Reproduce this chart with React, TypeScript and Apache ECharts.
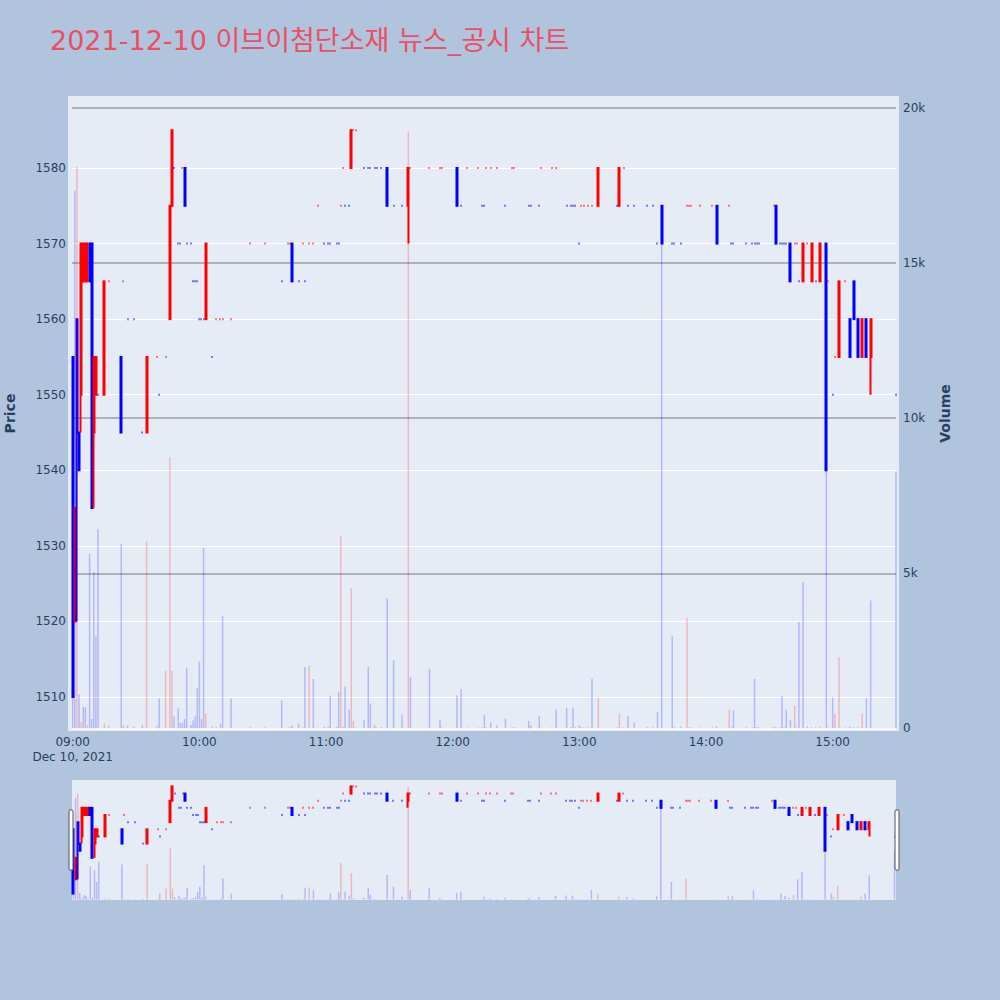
import React, { useEffect, useRef } from 'react';
import * as echarts from 'echarts';

// ---- data (1-minute bars, 2021-12-10) ----
const times = [
  '09:00','09:01','09:02','09:03','09:04','09:05','09:06','09:07','09:08','09:09',
  '09:10','09:11','09:12','09:15','09:17','09:23','09:24','09:26','09:29','09:33',
  '09:35','09:40','09:41','09:44','09:46','09:47','09:48','09:50','09:51','09:52',
  '09:53','09:54','09:56','09:57','09:58','09:59','10:00','10:01','10:02','10:03',
  '10:06','10:08','10:10','10:11','10:15','10:24','10:31','10:39','10:42','10:43',
  '10:44','10:47','10:49','10:50','10:52','10:54','10:56','10:59','11:01','11:02',
  '11:05','11:06','11:07','11:08','11:09','11:11','11:12','11:13','11:14','11:18',
  '11:20','11:21','11:23','11:24','11:26','11:29','11:32','11:36','11:39','11:40',
  '11:49','11:54','11:55','12:02','12:04','12:07','12:12','12:14','12:15','12:16',
  '12:18','12:21','12:25','12:28','12:29','12:36','12:37','12:41','12:42','12:47',
  '12:49','12:54','12:56','12:57','12:58','13:00','13:01','13:02','13:04','13:06',
  '13:09','13:18','13:19','13:21','13:23','13:26','13:32','13:35','13:37','13:39',
  '13:44','13:45','13:48','13:51','13:52','13:53','13:57','14:03','14:05','14:11',
  '14:12','14:13','14:19','14:22','14:23','14:24','14:25','14:32','14:33','14:35',
  '14:36','14:37','14:38','14:40','14:42','14:43','14:44','14:46','14:48','14:50',
  '14:52','14:54','14:57','14:58','15:00','15:01','15:03','15:06','15:08','15:10',
  '15:12','15:14','15:16','15:18','15:30'
];
const opens = [
  1555,1520,1560,1545,1550,1565,1565,1565,1570,1570,
  1545,1550,1550,1550,1565,1555,1565,1560,1560,1545,
  1545,1555,1550,1555,1560,1575,1580,1570,1570,1580,
  1580,1570,1570,1565,1565,1565,1560,1560,1560,1560,
  1555,1560,1560,1560,1560,1570,1570,1565,1570,1570,
  1570,1565,1570,1565,1570,1570,1575,1570,1570,1570,
  1570,1570,1575,1580,1575,1575,1580,1585,1585,1580,
  1580,1580,1580,1580,1580,1580,1575,1575,1575,1580,
  1580,1580,1580,1580,1575,1580,1580,1575,1575,1580,
  1580,1580,1575,1580,1580,1575,1575,1575,1580,1580,
  1580,1575,1575,1575,1575,1570,1575,1575,1575,1575,
  1575,1575,1575,1580,1575,1575,1575,1575,1570,1575,
  1570,1570,1570,1575,1575,1575,1575,1575,1575,1575,
  1570,1570,1570,1570,1570,1570,1570,1575,1575,1570,
  1570,1570,1570,1570,1570,1570,1565,1565,1570,1565,
  1565,1565,1570,1565,1550,1555,1555,1565,1560,1565,
  1560,1555,1560,1555,1550
];
const highs = [
  1555,1535,1560,1545,1570,1570,1570,1570,1570,1570,
  1555,1555,1550,1565,1565,1555,1565,1560,1560,1545,
  1555,1555,1550,1555,1575,1585,1580,1570,1570,1580,
  1580,1570,1570,1565,1565,1565,1560,1560,1560,1570,
  1555,1560,1560,1560,1560,1570,1570,1565,1570,1570,
  1570,1565,1570,1565,1570,1570,1575,1570,1570,1570,
  1570,1570,1575,1580,1575,1575,1585,1585,1585,1580,
  1580,1580,1580,1580,1580,1580,1575,1575,1580,1580,
  1580,1580,1580,1580,1575,1580,1580,1575,1575,1580,
  1580,1580,1575,1580,1580,1575,1575,1575,1580,1580,
  1580,1575,1575,1575,1575,1570,1575,1575,1575,1575,
  1580,1575,1580,1580,1575,1575,1575,1575,1570,1575,
  1570,1570,1570,1575,1575,1575,1575,1575,1575,1575,
  1570,1570,1570,1570,1570,1570,1570,1575,1575,1570,
  1570,1570,1570,1570,1570,1570,1565,1570,1570,1570,
  1565,1570,1570,1565,1550,1555,1565,1565,1560,1565,
  1560,1560,1560,1560,1550
];
const lows = [
  1510,1520,1520,1540,1545,1565,1565,1565,1565,1535,
  1535,1550,1550,1550,1565,1545,1565,1560,1560,1545,
  1545,1555,1550,1555,1560,1575,1580,1570,1570,1580,
  1575,1570,1570,1565,1565,1565,1560,1560,1560,1560,
  1555,1560,1560,1560,1560,1570,1570,1565,1570,1570,
  1565,1565,1570,1565,1570,1570,1575,1570,1570,1570,
  1570,1570,1575,1580,1575,1575,1580,1585,1585,1580,
  1580,1580,1580,1580,1580,1575,1575,1575,1570,1580,
  1580,1580,1580,1575,1575,1580,1580,1575,1575,1580,
  1580,1580,1575,1580,1580,1575,1575,1575,1580,1580,
  1580,1575,1575,1575,1575,1570,1575,1575,1575,1575,
  1575,1575,1575,1580,1575,1575,1575,1575,1570,1570,
  1570,1570,1570,1575,1575,1575,1575,1575,1570,1575,
  1570,1570,1570,1570,1570,1570,1570,1575,1570,1570,
  1570,1570,1570,1565,1570,1570,1565,1565,1570,1565,
  1565,1565,1540,1565,1550,1555,1555,1565,1555,1560,
  1555,1555,1555,1550,1550
];
const closes = [
  1510,1535,1545,1540,1570,1570,1570,1570,1565,1535,
  1555,1555,1550,1565,1565,1545,1565,1560,1560,1545,
  1555,1555,1550,1555,1575,1585,1580,1570,1570,1580,
  1575,1570,1570,1565,1565,1565,1560,1560,1560,1570,
  1555,1560,1560,1560,1560,1570,1570,1565,1570,1570,
  1565,1565,1570,1565,1570,1570,1575,1570,1570,1570,
  1570,1570,1575,1580,1575,1575,1585,1585,1585,1580,
  1580,1580,1580,1580,1580,1575,1575,1575,1580,1580,
  1580,1580,1580,1575,1575,1580,1580,1575,1575,1580,
  1580,1580,1575,1580,1580,1575,1575,1575,1580,1580,
  1580,1575,1575,1575,1575,1570,1575,1575,1575,1575,
  1580,1575,1580,1580,1575,1575,1575,1575,1570,1570,
  1570,1570,1570,1575,1575,1575,1575,1575,1570,1575,
  1570,1570,1570,1570,1570,1570,1570,1575,1570,1570,
  1570,1570,1570,1565,1570,1570,1565,1570,1570,1570,
  1565,1570,1540,1565,1550,1555,1565,1565,1555,1560,
  1555,1560,1555,1560,1550
];
const volumes = [
  10600,17340,18100,1100,200,700,670,100,5620,300,
  5050,2970,6420,150,100,5950,100,80,50,100,
  6040,100,970,1850,8740,1850,380,640,180,180,
  300,1960,110,250,380,1290,2150,300,5820,480,
  50,50,140,3630,970,50,30,900,30,30,
  90,140,30,1980,2020,1590,30,50,50,1060,
  50,1170,6210,50,1350,610,4520,240,30,270,
  1980,800,100,30,30,4190,2190,440,19240,1650,
  1920,280,30,1060,1270,30,30,30,440,30,
  180,100,310,30,30,240,100,400,30,30,
  610,660,30,660,30,100,30,30,30,1600,
  990,30,470,30,400,180,30,30,530,16000,
  2970,30,50,3560,30,30,30,50,60,600,
  30,570,30,30,1590,30,30,50,30,30,
  1030,30,600,280,730,30,3430,4720,50,30,
  30,50,11000,30,1000,470,2290,30,50,30,
  30,480,970,4120,8280
];
const volumeSides = [
  'd','d','u','d','u','d','d','u','d','d',
  'd','d','d','u','u','d','u','d','d','d',
  'u','u','d','u','u','u','d','d','d','d',
  'd','d','d','d','d','d','d','d','d','u',
  'd','u','d','d','d','u','u','d','u','u',
  'd','d','u','d','u','d','u','d','d','d',
  'd','d','u','u','d','d','u','u','u','d',
  'd','d','d','d','d','d','d','d','u','d',
  'd','d','u','d','d','u','u','d','d','u',
  'd','d','d','u','d','d','d','d','u','u',
  'd','d','d','d','d','d','u','u','u','d',
  'u','d','u','u','d','d','d','d','d','d',
  'd','d','d','u','u','u','u','u','d','u',
  'd','d','d','d','d','d','d','u','d','d',
  'd','d','d','d','u','u','d','d','d','d',
  'd','u','d','u','d','u','u','d','d','d',
  'd','u','d','d','d'
];
const priceTicks = [1510, 1520, 1530, 1540, 1550, 1560, 1570, 1580];
const volumeTicks = [0, 5000, 10000, 15000, 20000];
const hourLabels = ['09:00', '10:00', '11:00', '12:00', '13:00', '14:00', '15:00'];
const dateLabel = 'Dec 10, 2021';
const titleText = '2021-12-10 이브이첨단소재 뉴스_공시 차트';

// ---- layout (pixels) ----
const X0 = 72.7; // x of 09:00
const PPM = 2.111; // pixels per minute
const minAt = (x: number) => (x - X0) / PPM;
const PY1580 = 168;
const PPU = 7.557; // pixels per price unit
const priceY = (p: number) => PY1580 + (1580 - p) * PPU;

const UP = '#FF0000';
const DOWN = '#0000FF';
const UP_VOL = 'rgba(255,0,0,0.22)';
const DOWN_VOL = 'rgba(0,0,255,0.22)';
const FONT = '"DejaVu Sans", Verdana, "Noto Sans CJK KR", sans-serif';
const INK = '#2a3f5f';

function toMinute(t: string) {
  const [h, m] = t.split(':').map(Number);
  return (h - 9) * 60 + m;
}

export default function App() {
  const ref = useRef<HTMLDivElement>(null);
  useEffect(() => {
    if (!ref.current) return;
    const chart = echarts.init(ref.current, null, { renderer: 'svg' });
    const mins = times.map(toMinute);

    // candle direction (plotly rule: flat bars compare to previous close, else keep direction)
    const dirs: number[] = [];
    let prevDir = 1;
    let prevClose: number | null = null;
    for (let i = 0; i < times.length; i++) {
      const o = opens[i], c = closes[i];
      let d: number;
      if (c > o) d = 1;
      else if (c < o) d = -1;
      else if (prevClose !== null && c !== prevClose) d = c > prevClose ? 1 : -1;
      else d = prevDir;
      dirs.push(d);
      prevDir = d;
      prevClose = c;
    }
    const candleData = mins.map((m, i) => {
      const col = dirs[i] > 0 ? UP : DOWN;
      return {
        value: [m, opens[i], closes[i], lows[i], highs[i]],
        itemStyle: { color: col, color0: col, borderColor: col, borderColor0: col },
      };
    });
    const volData = mins.map((m, i) => ({
      value: [m, volumes[i]],
      itemStyle: { color: volumeSides[i] === 'u' ? UP_VOL : DOWN_VOL },
    }));

    const plotL = 72, plotR = 896;
    const priceTop = priceY(1590);
    const priceBottom = priceY(1500);
    const volTop = 108.2, volZero = 728.3;

    const hidden = { show: false };

    const option: any = {
      animation: false,
      backgroundColor: '#B0C4DE',
      textStyle: { fontFamily: FONT },
      graphic: [
        { type: 'rect', z: -10, shape: { x: 68, y: 96, width: 831, height: 635 }, style: { fill: '#E5ECF6' }, silent: true },
        { type: 'rect', z: -10, shape: { x: plotL, y: 780, width: plotR - plotL, height: 120 }, style: { fill: '#E5ECF6' }, silent: true },
        { type: 'rect', z: 100, shape: { x: 69, y: 810, width: 4, height: 60, r: 1 }, style: { fill: '#fff', stroke: '#555', lineWidth: 1 } },
        { type: 'rect', z: 100, shape: { x: 895, y: 810, width: 4, height: 60, r: 1 }, style: { fill: '#fff', stroke: '#555', lineWidth: 1 } },
        { type: 'text', x: 50, y: 40, style: { text: titleText, fill: '#EC4F63', font: `27px ${FONT}`, textVerticalAlign: 'middle', verticalAlign: 'middle' } },
        { type: 'text', x: 9.5, y: 413.5, rotation: Math.PI / 2, style: { text: 'Price', fill: INK, font: `bold 14px ${FONT}`, align: 'center', verticalAlign: 'middle' } },
        { type: 'text', x: 945, y: 413.5, rotation: Math.PI / 2, style: { text: 'Volume', fill: INK, font: `bold 14px ${FONT}`, align: 'center', verticalAlign: 'middle' } },
      ],
      grid: [
        // 0: time labels
        { left: X0, right: 1000 - (X0 + 420 * PPM), top: 96, bottom: 1000 - 731 },
        // 1: price
        { left: plotL, right: 1000 - plotR, top: priceTop, height: priceBottom - priceTop },
        // 2: volume
        { left: plotL, right: 1000 - plotR, top: volTop, height: volZero - volTop },
        // 3: slider price
        { left: plotL, right: 1000 - plotR, top: 780, height: 120 },
        // 4: slider volume
        { left: plotL, right: 1000 - plotR, top: 780, height: 120 },
      ],
      xAxis: [
        {
          gridIndex: 0, type: 'value', min: 0, max: 420, interval: 60,
          axisLine: { show: false }, axisTick: { show: false }, splitLine: { show: false },
          axisLabel: {
            color: INK, fontSize: 12, fontFamily: FONT, margin: 3, lineHeight: 15.6,
            formatter: (v: number) => {
              const idx = Math.round(v / 60);
              if (v > 391 || idx >= hourLabels.length) return '';
              return idx === 0 ? `${hourLabels[0]}\n${dateLabel}` : hourLabels[idx];
            },
          },
        },
        { gridIndex: 1, type: 'value', min: minAt(plotL), max: minAt(plotR), ...hidden },
        { gridIndex: 2, type: 'value', min: minAt(plotL), max: minAt(plotR), ...hidden },
        { gridIndex: 3, type: 'value', min: -0.7, max: 390.7, ...hidden },
        { gridIndex: 4, type: 'value', min: -0.7, max: 390.7, ...hidden },
      ],
      yAxis: [
        { gridIndex: 0, type: 'value', min: 0, max: 1, ...hidden },
        {
          gridIndex: 1, type: 'value', min: 1500, max: 1590, interval: 10, position: 'left',
          axisLine: { show: false }, axisTick: { show: false },
          axisLabel: {
            color: INK, fontSize: 12, fontFamily: FONT, margin: 6,
            showMinLabel: false, showMaxLabel: false,
            formatter: (v: number) => (priceTicks.includes(v) ? String(v) : ''),
          },
          splitLine: { show: true, showMinLine: false, showMaxLine: false, lineStyle: { color: '#ffffff', width: 1 } },
        },
        {
          gridIndex: 2, type: 'value', min: 0, max: 20000, interval: 5000, position: 'right',
          axisLine: { show: false }, axisTick: { show: false },
          axisLabel: {
            color: INK, fontSize: 12, fontFamily: FONT, margin: 7,
            formatter: (v: number) => (volumeTicks.includes(v) ? (v === 0 ? '0' : `${v / 1000}k`) : ''),
          },
          splitLine: { show: true, lineStyle: { color: ['#ffffff', '#9c9ea3', '#9c9ea3', '#9c9ea3', '#9c9ea3'], width: 1.5 } },
        },
        { gridIndex: 3, type: 'value', min: 1505.5, max: 1589.5, ...hidden },
        { gridIndex: 4, type: 'value', min: -97, max: 20387, ...hidden },
      ],
      series: [
        {
          type: 'candlestick', xAxisIndex: 1, yAxisIndex: 1, data: candleData, z: 2,
          barWidth: 1.5, clip: false, encode: { x: 0, y: [1, 2, 3, 4] },
          itemStyle: { borderWidth: 2 },
        },
        {
          type: 'bar', xAxisIndex: 2, yAxisIndex: 2, data: volData, z: 3,
          barWidth: 1.5, clip: false,
        },
        {
          type: 'candlestick', xAxisIndex: 3, yAxisIndex: 3, data: candleData, z: 2,
          barWidth: 1.5, clip: false, encode: { x: 0, y: [1, 2, 3, 4] },
          itemStyle: { borderWidth: 2 },
        },
        {
          type: 'bar', xAxisIndex: 4, yAxisIndex: 4, data: volData, z: 3,
          barWidth: 1.5, clip: false,
        },
      ],
    };
    chart.setOption(option);
    return () => chart.dispose();
  }, []);
  return <div ref={ref} style={{ position: 'absolute', left: 0, top: 0, width: 1000, height: 1000 }} />;
}
